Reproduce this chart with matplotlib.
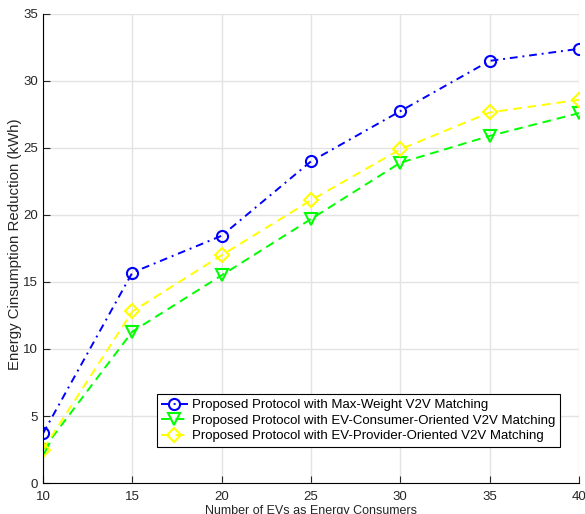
import matplotlib.pyplot as plt

plt.rcParams['font.family'] = ['Liberation Sans', 'DejaVu Sans']

so_ev = [10, 15, 20, 25, 30, 35, 40]
max_weight = [3.7, 15.7, 18.45, 24.0, 27.75, 31.5, 32.4]
consumer_oriented = [2.5, 11.3, 15.5, 19.7, 23.9, 25.9, 27.6]
provider_oriented = [2.5, 12.8, 17.0, 21.1, 24.9, 27.65, 28.6]

nhan = ['Proposed Protocol with Max-Weight V2V Matching',
        'Proposed Protocol with EV-Consumer-Oriented V2V Matching',
        'Proposed Protocol with EV-Provider-Oriented V2V Matching']

fig = plt.figure(figsize=(5.85, 5.14), dpi=100)
ax = fig.add_axes([0.0735, 0.0603, 0.9162, 0.9125])

ax.plot(so_ev, max_weight, color='blue', marker='o', markersize=8,
        markerfacecolor='none', markeredgewidth=1.5, linewidth=1.4,
        linestyle=(0, (4, 2.5, 1, 2.5)), label=nhan[0])
ax.plot(so_ev, consumer_oriented, color='#00ff00', marker='v', markersize=9,
        markerfacecolor='none', markeredgewidth=1.5, linewidth=1.4,
        linestyle=(0, (4.5, 3)), label=nhan[1])
ax.plot(so_ev, provider_oriented, color='yellow', marker='D', markersize=7,
        markerfacecolor='none', markeredgewidth=1.5, linewidth=1.4,
        linestyle=(0, (4.5, 3)), label=nhan[2])

ax.set_xlim(10, 40)
ax.set_ylim(0, 35)
ax.set_xticks(range(10, 41, 5))
ax.set_yticks(range(0, 36, 5))
ax.grid(True, color='#e3e3e3', linewidth=1.0)
ax.set_axisbelow(True)
ax.spines['top'].set_visible(False)
ax.spines['right'].set_visible(False)
ax.tick_params(direction='in', length=5, labelsize=9.5, colors='#262626')
ax.tick_params(axis='x', pad=6)

ax.set_xlabel('Number of EVs as Energy Consumers', fontsize=9, color='#262626', labelpad=1)
ax.set_ylabel('Energy Cinsumption Reduction (kWh)', fontsize=10.8, color='#262626',
              va='center')
ax.yaxis.set_label_coords(-0.052, 0.51)

leg = ax.legend(loc='lower left', bbox_to_anchor=(0.212, 0.077), fontsize=9.5,
                fancybox=False, edgecolor='black', framealpha=1,
                handlelength=2.0, handletextpad=0.3, borderpad=0.35, labelspacing=0.25,
                borderaxespad=0)
leg.get_frame().set_linewidth(0.8)

plt.savefig('out.png', dpi=100)
